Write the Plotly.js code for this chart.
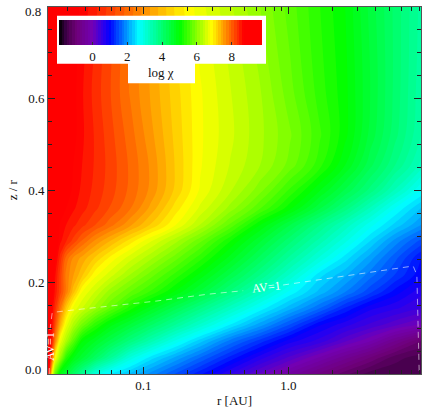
<!DOCTYPE html>
<html>
<head>
<meta charset="utf-8">
<script src="https://cdn.plot.ly/plotly-3.0.1.min.js"></script>
<style>html,body{margin:0;padding:0;background:#fff}</style>
</head>
<body>
<div id="chart" style="width:436px;height:411px"></div>
<script>
// radius grid [AU] and height grid z/r
const radius = [0.0219, 0.02273, 0.02346, 0.0246, 0.02665, 0.0293, 0.03275, 0.03777, 0.04644, 0.05893, 0.081, 0.1112, 0.1654, 0.246, 0.3962, 0.638, 1.027, 1.654, 2.46, 3.659, 5.444, 8.2];
const height = [0, 0.0349, 0.0719, 0.1068, 0.1439, 0.1787, 0.2158, 0.2529, 0.2899, 0.3248, 0.3619, 0.4011, 0.4556, 0.521, 0.6191, 0.8];

// log chi, one row per height
const logChi = [
    [9.0, 7.9, 6.85, 5.77, 4.89, 4.56, 4.17, 3.69, 3.01, 2.59, 2.27, 1.95, 1.54, 1.14, 0.65, 0.16, -0.31, -0.76, -1.1, -1.38, -1.4, -1.42],
    [9.3, 8.7, 7.96, 6.85, 6.15, 5.33, 4.89, 4.59, 4.16, 3.66, 2.99, 2.53, 2.11, 1.69, 1.19, 0.71, 0.29, -0.14, -0.51, -0.87, -1.25, -1.38],
    [9.3, 8.9, 8.47, 7.78, 6.77, 6.28, 5.7, 5.03, 4.72, 4.37, 3.9, 3.44, 2.87, 2.37, 1.8, 1.33, 0.87, 0.58, 0.23, -0.09, -0.55, -1.0],
    [9.4, 9.0, 8.63, 8.18, 7.44, 6.73, 6.3, 5.85, 5.35, 4.91, 4.52, 4.13, 3.64, 3.15, 2.58, 2.06, 1.52, 0.96, 0.7, 0.46, 0.23, 0],
    [9.5, 9.1, 8.7, 8.39, 7.88, 7.26, 6.77, 6.51, 6.14, 5.74, 5.23, 4.8, 4.32, 3.84, 3.27, 2.7, 2.21, 1.71, 1.24, 0.85, 0.68, 0.5],
    [9.6, 9.2, 8.85, 8.56, 8.22, 7.81, 7.33, 6.8, 6.49, 6.12, 5.75, 5.43, 4.97, 4.51, 3.9, 3.3, 2.7, 2.24, 1.85, 1.44, 1.03, 0.7],
    [9.6, 9.3, 9.0, 8.63, 8.25, 7.8, 7.57, 7.28, 6.85, 6.57, 6.19, 5.83, 5.4, 4.95, 4.38, 3.8, 3.17, 2.5, 2.18, 1.77, 1.39, 1.0],
    [9.7, 9.45, 9.2, 8.8, 8.4, 7.95, 7.69, 7.5, 7.23, 6.91, 6.57, 6.25, 5.82, 5.36, 4.79, 4.2, 3.6, 3.01, 2.53, 2.07, 1.6, 1.1],
    [9.7, 9.5, 9.3, 9.0, 8.64, 8.46, 8.25, 7.98, 7.67, 7.4, 7.03, 6.68, 6.26, 5.79, 5.16, 4.57, 3.99, 3.42, 2.94, 2.45, 1.94, 1.5],
    [9.8, 9.6, 9.4, 9.15, 8.7, 8.6, 8.49, 8.35, 8.15, 7.91, 7.58, 7.24, 6.81, 6.34, 5.71, 5.0, 4.4, 3.8, 3.31, 2.81, 2.4, 2.0],
    [9.8, 9.65, 9.5, 9.3, 9.0, 8.75, 8.63, 8.51, 8.34, 8.14, 7.87, 7.52, 7.04, 6.62, 6.15, 5.62, 5.05, 4.42, 3.9, 3.33, 2.75, 2.3],
    [9.9, 9.75, 9.6, 9.45, 9.2, 8.95, 8.69, 8.57, 8.4, 8.22, 7.96, 7.67, 7.22, 6.78, 6.38, 5.96, 5.42, 4.86, 4.38, 3.9, 3.33, 2.75],
    [9.9, 9.8, 9.65, 9.5, 9.3, 9.05, 8.75, 8.6, 8.43, 8.24, 7.97, 7.68, 7.24, 6.82, 6.49, 6.2, 5.84, 5.35, 4.85, 4.3, 3.8, 3.3],
    [9.9, 9.8, 9.7, 9.55, 9.3, 9.1, 8.82, 8.63, 8.43, 8.21, 7.92, 7.61, 7.21, 6.83, 6.54, 6.24, 5.92, 5.47, 5.05, 4.5, 4.0, 3.5],
    [9.9, 9.8, 9.7, 9.55, 9.3, 9.1, 8.82, 8.62, 8.39, 8.16, 7.83, 7.54, 7.17, 6.82, 6.51, 6.21, 5.8, 5.37, 5.05, 4.55, 4.05, 3.55],
    [9.9, 9.8, 9.7, 9.55, 9.3, 9.1, 8.85, 8.7, 8.49, 8.24, 7.91, 7.55, 7.08, 6.71, 6.38, 6.05, 5.68, 5.3, 5.0, 4.5, 4.05, 3.6]
];

// AV=1 contour, null where the labels interrupt it
const avR = [0.0224, 0.0225, null, 0.0227, 0.0231, 0.0235, 0.024, 0.0328, 0.1237, 0.2737, 0.4873, null, 0.9191, 2.034, 3.838, 7.244, 7.68, 7.84, 7.97];
const avZ = [0, 0.02, null, 0.096, 0.118, 0.133, 0.1345, 0.1395, 0.1591, 0.1737, 0.1816, null, 0.194, 0.2093, 0.223, 0.2354, 0.2158, 0.1068, 0.0022];

const xTicks = [0.1, 1];
const xTickText = ['0.1', '1.0'];
const xMinor = [0.03, 0.04, 0.05, 0.06, 0.07, 0.08, 0.09, 0.2, 0.3, 0.4, 0.5, 0.6, 0.7, 0.8, 0.9, 2, 3, 4, 5, 6, 7, 8];
const yTicks = [0, 0.2, 0.4, 0.6, 0.8];
const yTickText = ['', '0.2', '0.4', '0.6', ''];
const barTicks = [0, 2, 4, 6, 8];

const serif = 'Liberation Serif';
const W = 436, H = 411;
const L = 47.7, R = 420.7, T = 7, B = 374;
const px = x => (x - L) / (R - L);
const py = y => (B - y) / (B - T);

const zMin = -1.9, zMax = 9.65;
const stop = (v, c) => [(v - zMin) / (zMax - zMin), c];
const rainbow = [
    stop(-1.9, 'rgb(0,0,0)'),
    stop(-1.5, 'rgb(60,0,70)'),
    stop(-1.3, 'rgb(80,0,85)'),
    stop(-0.9, 'rgb(110,0,120)'),
    stop(0, 'rgb(115,0,180)'),
    stop(0.7, 'rgb(40,0,240)'),
    stop(1.0, 'rgb(0,0,255)'),
    stop(2.7, 'rgb(0,255,255)'),
    stop(5.05, 'rgb(0,255,0)'),
    stop(6.85, 'rgb(255,255,0)'),
    stop(8.7, 'rgb(255,0,0)'),
    stop(9.65, 'rgb(255,0,0)')
];

const labelFont = { family: serif, size: 13, color: '#111' };

const traces = [{
    type: 'contour',
    x: radius,
    y: height,
    z: logChi,
    zmin: zMin,
    zmax: zMax,
    colorscale: rainbow,
    autocontour: false,
    contours: { coloring: 'fill', start: zMin, end: zMax, size: 0.15, showlines: false },
    line: { width: 0, smoothing: 1 },
    colorbar: {
        orientation: 'h',
        xref: 'container', yref: 'container',
        x: 69.4 / W, xanchor: 'left',
        y: 1 - 19.5 / H, yanchor: 'top',
        len: 201, lenmode: 'pixels',
        thickness: 24.8, thicknessmode: 'pixels',
        xpad: 0, ypad: 0,
        outlinewidth: 0,
        ticks: 'inside', ticklen: 3, tickcolor: '#333', tickwidth: 0.6,
        tickvals: barTicks,
        tickfont: labelFont
    },
    hoverinfo: 'skip'
}, {
    type: 'scatter',
    mode: 'lines',
    x: avR,
    y: avZ,
    line: { color: 'rgba(255,255,255,0.7)', width: 0.8, dash: '6px,5px' },
    hoverinfo: 'skip',
    showlegend: false
}];

const note = (x, y, text, extra) => Object.assign({
    xref: 'paper', yref: 'paper', x: px(x), y: py(y), text: text, showarrow: false,
    xanchor: 'center', yanchor: 'middle', font: labelFont
}, extra);

const layout = {
    width: W,
    height: H,
    margin: { l: L, r: W - R, t: T, b: H - B, pad: 0, autoexpand: false },
    paper_bgcolor: '#fff',
    plot_bgcolor: '#fff',
    font: labelFont,
    showlegend: false,
    xaxis: {
        type: 'log',
        range: [Math.log10(0.022), Math.log10(8.2)],
        tickvals: xTicks, ticktext: xTickText,
        ticks: 'inside', ticklen: 7, tickwidth: 0.6, tickcolor: '#222',
        minor: { tickvals: xMinor, ticks: 'inside', ticklen: 4, tickwidth: 0.6, tickcolor: '#222' },
        mirror: 'allticks', showline: true, linecolor: '#555', linewidth: 0.7,
        showgrid: false, zeroline: false,
        tickfont: labelFont
    },
    yaxis: {
        range: [0, 0.8],
        tickvals: yTicks, ticktext: yTickText,
        ticks: 'inside', ticklen: 7, tickwidth: 0.6, tickcolor: '#222',
        minor: { dtick: 0.05, ticks: 'inside', ticklen: 4, tickwidth: 0.6, tickcolor: '#222' },
        mirror: 'allticks', showline: true, linecolor: '#555', linewidth: 0.7,
        showgrid: false, zeroline: false,
        tickfont: labelFont
    },
    shapes: [
        { type: 'rect', xref: 'paper', yref: 'paper', x0: px(56.7), x1: px(265.7), y0: py(63.7), y1: py(15.7), fillcolor: '#fff', line: { width: 0 }, layer: 'above' },
        { type: 'rect', xref: 'paper', yref: 'paper', x0: px(127.7), x1: px(194.7), y0: py(83.3), y1: py(63), fillcolor: '#fff', line: { width: 0 }, layer: 'above' }
    ],
    annotations: [
        note(161, 72.5, 'log χ'),
        note(266, 287, 'AV=1', { textangle: -6, font: { family: serif, size: 12, color: '#fff' } }),
        note(49.5, 346, 'AV=1', { textangle: -90, font: { family: serif, size: 12, color: '#fff' } }),
        note(33, 11, '0.8'),
        note(33, 369.7, '0.0'),
        note(234, 400, 'r [AU]'),
        note(12, 190, 'z / r', { textangle: -90 })
    ]
};

Plotly.newPlot('chart', traces, layout, { displayModeBar: false, responsive: false });
</script>
</body>
</html>
